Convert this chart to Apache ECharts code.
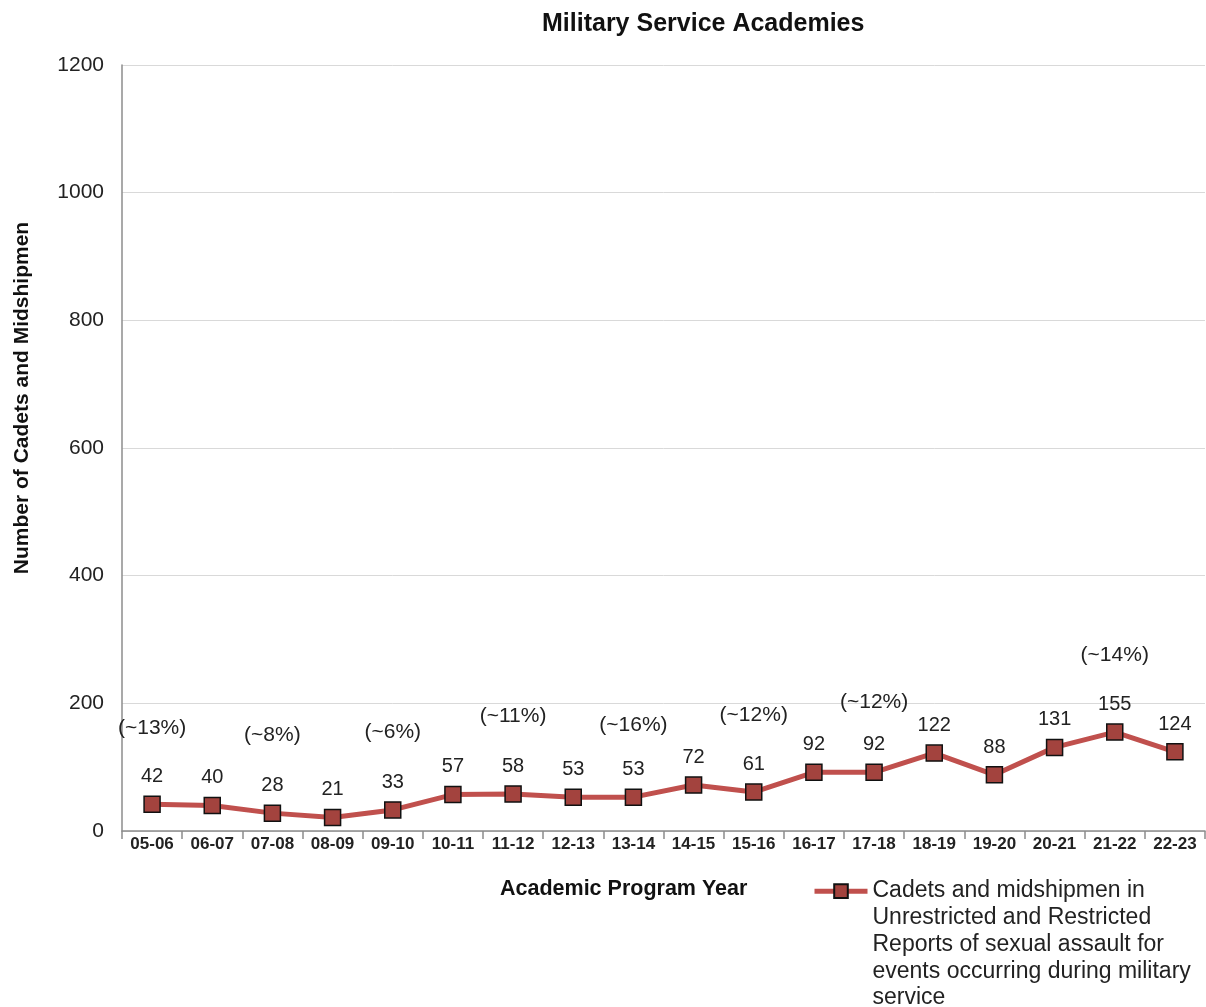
<!DOCTYPE html>
<html>
<head>
<meta charset="utf-8">
<script src="https://cdn.jsdelivr.net/npm/echarts@6/dist/echarts.min.js"></script>
<style>html,body{margin:0;padding:0;background:#fff;}#c{width:1206px;height:1007px;}</style>
</head>
<body>
<div id="c"></div>
<script>
const categories = ['05-06','06-07','07-08','08-09','09-10','10-11','11-12','12-13','13-14','14-15','15-16','16-17','17-18','18-19','19-20','20-21','21-22','22-23'];
const reports = [42,40,28,21,33,57,58,53,53,72,61,92,92,122,88,131,155,124];
const shareCategories = ['05-06','07-08','09-10','11-12','13-14','15-16','17-18','21-22'];
const shareTexts = ['(~13%)','(~8%)','(~6%)','(~11%)','(~16%)','(~12%)','(~12%)','(~14%)'];
const shareLabelLevels = [161,150,155,180,166,182,202,276];
const yTicks = [0,200,400,600,800,1000,1200];
const seriesName = 'Cadets and midshipmen in\nUnrestricted and Restricted\nReports of sexual assault for\nevents occurring during military\nservice';

const chart = echarts.init(document.getElementById('c'));
const font = '"Liberation Sans", Arial, sans-serif';
chart.setOption({
  animation: false,
  backgroundColor: '#fff',
  textStyle: {fontFamily: font},
  title: {
    text: 'Military Service Academies',
    left: 537, top: 7,
    textStyle: {fontFamily: font, fontSize: 25, fontWeight: 'bold', color: '#111'}
  },
  grid: {left: 122, right: 1, top: 65, bottom: 176, containLabel: false},
  xAxis: {
    type: 'category',
    data: categories,
    boundaryGap: true,
    axisLine: {lineStyle: {color: '#8c8c8c', width: 1.5}},
    axisTick: {show: true, length: 8, lineStyle: {color: '#8c8c8c', width: 1.5}},
    axisLabel: {fontFamily: font, fontSize: 17, fontWeight: 'bold', color: '#222', margin: 5, interval: 0}
  },
  yAxis: {
    type: 'value',
    min: yTicks[0], max: yTicks[yTicks.length-1], interval: 200,
    axisLine: {show: true, lineStyle: {color: '#8c8c8c', width: 1.5}},
    axisTick: {show: false},
    splitLine: {lineStyle: {color: '#d9d9d9', width: 1}},
    axisLabel: {fontFamily: font, fontSize: 21, color: '#222', margin: 18, formatter: v => String(v)}
  },
  legend: {
    data: [seriesName],
    left: 812, top: 771, padding: 0,
    itemWidth: 53, itemHeight: 17, itemGap: 0,
    lineStyle: {width: 5},
    formatter: name => '\n\n\n\n' + name,
    textStyle: {fontFamily: font, fontSize: 23, color: '#222', lineHeight: 26.7}
  },
  graphic: [
    {type: 'text', left: 500, top: 878, style: {text: 'Academic Program Year', font: 'bold 21.5px "Liberation Sans", Arial, sans-serif', fill: '#111'}},
    {type: 'text', x: 22, y: 398, rotation: Math.PI/2, style: {text: 'Number of Cadets and Midshipmen', font: 'bold 21px "Liberation Sans", Arial, sans-serif', fill: '#111', align: 'center', verticalAlign: 'middle'}}
  ],
  series: [
    {
      name: seriesName,
      type: 'line',
      data: reports,
      symbol: 'rect',
      symbolSize: 16,
      lineStyle: {color: '#C0504D', width: 5},
      itemStyle: {color: '#A3433E', borderColor: '#111', borderWidth: 1.5},
      label: {show: true, position: 'top', distance: 9, fontFamily: font, fontSize: 20, color: '#222'},
      z: 3
    },
    {
      name: 'share',
      type: 'scatter',
      data: shareCategories.map((c, i) => [c, shareLabelLevels[i], shareTexts[i]]),
      symbolSize: 0,
      itemStyle: {opacity: 1},
      label: {show: true, position: 'inside', formatter: p => p.data[2], fontFamily: font, fontSize: 21, color: '#222'},
      silent: true,
      z: 4
    }
  ]
});
</script>
</body>
</html>
